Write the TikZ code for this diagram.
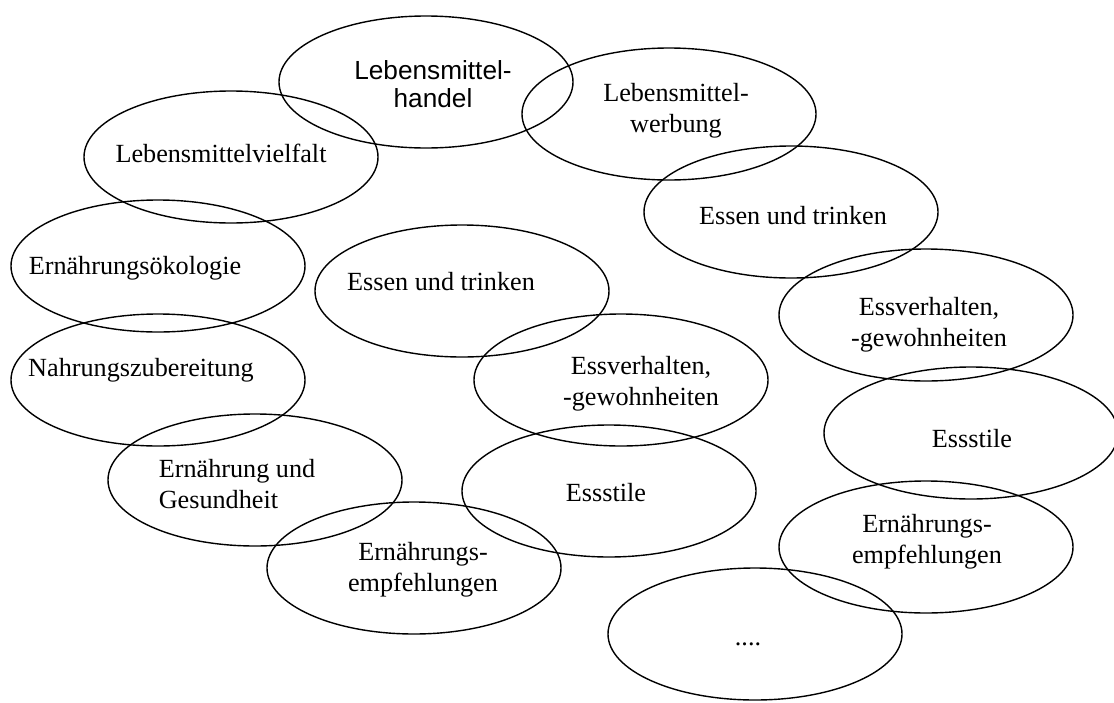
\documentclass[tikz,border=0pt]{standalone}
\usepackage{fontspec}
\setmainfont{Liberation Serif}
\newfontfamily\arialfont{Liberation Sans}
\usetikzlibrary{shapes.geometric}

\begin{document}
\begin{tikzpicture}[x=0.5pt,y=-0.5pt,
				oval/.style={draw,ellipse,line width=0.7pt,minimum width=147pt,minimum height=66pt,inner sep=0pt},
				term/.style={align=center,inner sep=0pt,font=\fontsize{13.1pt}{15.5pt}\selectfont}]
				\useasboundingbox (0,0) rectangle (1114,702);
				% ellipses
				\node[oval] (HANDEL)   at (426,82)  {};
				\node[oval] (WERBUNG)  at (669,114) {};
				\node[oval] (VIELFALT) at (231,157) {};
				\node[oval] (ESSEN)    at (791,212) {};
				\node[oval] (OEKO)     at (158,266) {};
				\node[oval] (ZUBER)    at (158,380) {};
				\node[oval] (ESSENM)   at (462,291) {};
				\node[oval] (VERH)     at (926,315) {};
				\node[oval] (VERHM)    at (621,380) {};
				\node[oval] (STILE)    at (971,433) {};
				\node[oval] (GESUND)   at (255,480) {};
				\node[oval] (STILEM)   at (609,491) {};
				\node[oval] (EMPFL)    at (414,568) {};
				\node[oval] (EMPF)     at (926,547) {};
				\node[oval] (MORE)     at (755,634) {};
				% texts
				\node[term,font=\arialfont\fontsize{13.1pt}{14pt}\selectfont] (HANDELtxt) at ([shift={(7,2)}]HANDEL.center) {Lebensmittel-\\handel};
				\node[term] (WERBUNGtxt)  at ([shift={(7,-3)}]WERBUNG.center)   {Lebensmittel-\\werbung};
				\node[term] (VIELFALTtxt) at ([shift={(-10,-4)}]VIELFALT.center) {Lebensmittelvielfalt};
				\node[term] (ESSENtxt)    at ([shift={(2,4)}]ESSEN.center)      {Essen und trinken};
				\node[term] (OEKOtxt)     at ([shift={(-23,2)}]OEKO.center)     {Ernährungsökologie};
				\node[term] (ZUBERtxt)    at ([shift={(-17,-10)}]ZUBER.center)  {Nahrungszubereitung};
				\node[term] (ESSENMtxt)   at ([shift={(-21,-9)}]ESSENM.center)  {Essen und trinken};
				\node[term] (VERHtxt)     at ([shift={(3,10)}]VERH.center)      {Essverhalten,\\-gewohnheiten};
				\node[term] (VERHMtxt)    at ([shift={(20,4)}]VERHM.center)     {Essverhalten,\\-gewohnheiten};
				\node[term] (STILEtxt)    at ([shift={(1,6)}]STILE.center)      {Essstile};
				\node[term,align=left] (GESUNDtxt) at ([shift={(-18,4)}]GESUND.center) {Ernährung und\\Gesundheit};
				\node[term] (STILEMtxt)   at ([shift={(-3,2)}]STILEM.center)    {Essstile};
				\node[term] (EMPFLtxt)    at ([shift={(9,2)}]EMPFL.center)      {Ernährungs-\\empfehlungen};
				\node[term] (EMPFtxt)     at ([shift={(1,-5)}]EMPF.center)      {Ernährungs-\\empfehlungen};
				\node[term] (MOREtxt)     at ([shift={(-7,10)}]MORE.center)     {....};
			\end{tikzpicture}
\end{document}
